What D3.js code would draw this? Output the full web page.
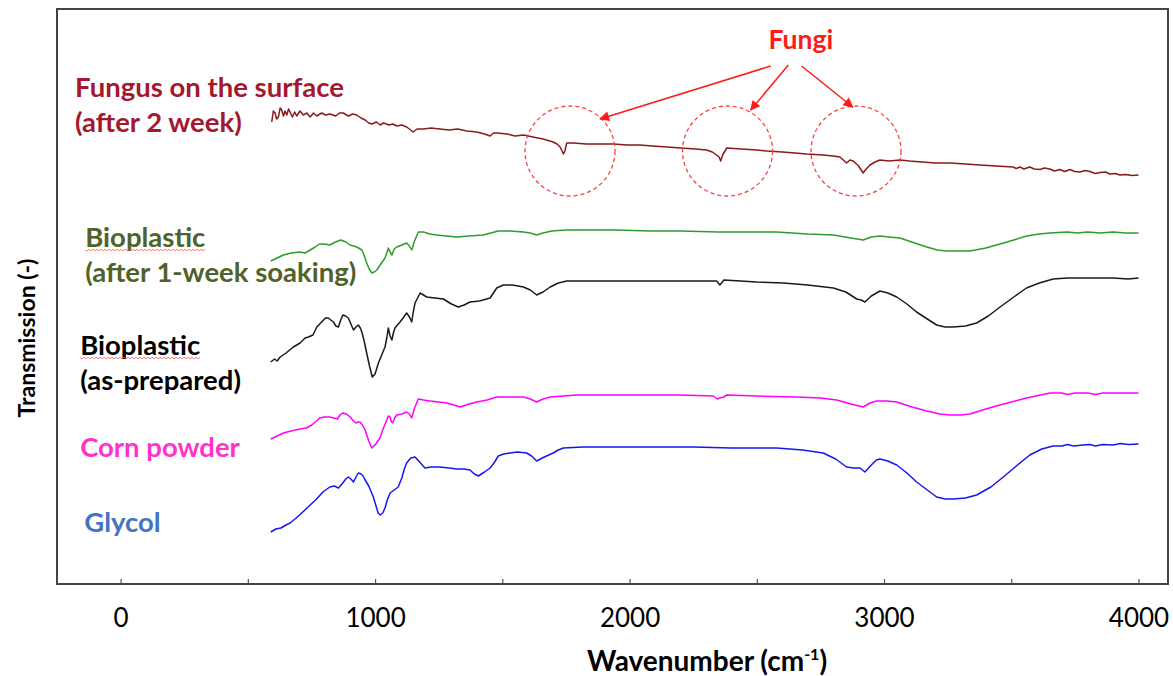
<!DOCTYPE html>
<html lang="en">
<head>
<meta charset="utf-8">
<title>FTIR spectra</title>
<script src="https://cdn.jsdelivr.net/npm/d3@7/dist/d3.min.js"></script>
<style>
  body { margin: 0; background: #fff; }
  text { font-family: Lato, "Open Sans", sans-serif; }
</style>
</head>
<body>
<script>

// Spectra: [wavenumber (cm-1), transmission (offset, arb. units)]
var fungus = [[594,46.2],[600,47.3],[607,47.1],[613,46.5],[620,46.7],[627,47.6],[633,47.4],[640,46.8],[646,47.3],[653,46.9],
  [660,47.5],[666,47.2],[675,46.7],[684,47.2],[692,46.8],[705,47.3],[718,46.9],[732,47.1],[745,46.7],[758,47.1],[771,46.8],
  [790,47.1],[805,46.9],[823,47.0],[845,46.8],[860,47.1],[875,47.1],[895,46.8],[912,47.0],[928,46.9],[945,46.6],[961,46.4],
  [975,46.1],[987,46.0],[1005,46.2],[1020,45.9],[1033,46.1],[1055,45.9],[1070,46.0],[1085,45.8],[1105,45.9],[1124,45.7],
  [1140,45.4],[1150,45.2],[1165,45.5],[1190,45.5],[1220,45.6],[1255,45.5],[1290,45.4],[1325,45.5],[1360,45.3],[1400,45.2],
  [1430,45.0],[1452,44.8],[1465,45.1],[1478,45.1],[1520,45.0],[1550,44.8],[1583,44.9],[1620,44.7],[1660,44.5],[1700,44.2],
  [1715,44.0],[1727,43.7],[1735,43.3],[1740,43.0],[1746,43.3],[1753,44.1],[1780,44.1],[1830,44.0],[1880,44.0],[1936,44.0],
  [1990,43.9],[2040,43.9],[2090,43.8],[2146,43.7],[2200,43.6],[2260,43.5],[2303,43.4],[2325,43.2],[2342,42.9],[2352,42.7],
  [2358,42.3],[2366,42.9],[2382,43.6],[2440,43.5],[2500,43.4],[2539,43.3],[2600,43.2],[2650,43.1],[2696,43.0],[2760,42.9],
  [2800,42.8],[2827,42.7],[2840,42.4],[2853,42.1],[2866,42.4],[2879,42.3],[2900,41.8],[2918,41.1],[2930,41.5],[2945,41.9],
  [2965,42.2],[2984,42.4],[3020,42.3],[3063,42.4],[3100,42.3],[3150,42.2],[3200,42.1],[3260,42.1],[3320,42.0],[3377,41.9],
  [3440,41.8],[3507,41.7],[3520,41.55],[3534,41.7],[3550,41.5],[3573,41.7],[3590,41.5],[3613,41.45],[3630,41.6],[3652,41.5],
  [3670,41.3],[3691,41.45],[3710,41.25],[3731,41.45],[3750,41.25],[3770,41.2],[3790,41.35],[3809,41.25],[3830,41.05],[3849,41.15],
  [3870,41.2],[3888,41.0],[3910,41.05],[3927,40.9],[3950,40.95],[3975,40.85],[4000,40.9]];

var soaked = [[590,32.3],[615,32.6],[640,32.9],[670,33.1],[705,33.2],[725,33.1],[745,33.4],[765,33.7],[782,34.0],[800,34.0],
  [822,33.9],[845,34.2],[865,34.4],[885,34.2],[902,33.9],[928,33.7],[948,33.4],[958,32.8],[967,32.1],[977,31.5],[987,31.1],
  [997,31.2],[1007,31.4],[1020,31.9],[1039,32.6],[1046,33.1],[1052,33.6],[1059,33.2],[1066,32.9],[1075,33.5],[1085,33.7],
  [1105,33.9],[1124,34.1],[1135,33.8],[1144,33.4],[1155,34.3],[1170,35.2],[1190,35.2],[1215,35.0],[1242,34.9],[1280,34.8],
  [1321,34.7],[1370,34.8],[1425,34.9],[1455,35.1],[1484,35.3],[1530,35.3],[1583,35.2],[1610,35.1],[1635,34.9],[1660,35.1],
  [1694,35.3],[1750,35.4],[1818,35.4],[1950,35.4],[2080,35.3],[2200,35.3],[2350,35.2],[2460,35.2],[2578,35.2],[2700,35.0],
  [2801,34.9],[2870,34.6],[2918,34.4],[2950,34.7],[2984,34.8],[3020,34.7],[3063,34.6],[3120,34.1],[3168,33.7],[3210,33.4],
  [3246,33.3],[3300,33.3],[3338,33.3],[3400,33.6],[3456,34.0],[3510,34.4],[3560,34.8],[3610,35.0],[3652,35.1],[3720,35.2],
  [3760,35.1],[3800,35.2],[3850,35.1],[3900,35.2],[3950,35.1],[4000,35.1]];

var prepared = [[590,22.2],[605,22.5],[615,22.3],[627,22.7],[650,23.1],[679,23.7],[705,24.1],[725,24.6],[738,24.7],[756,24.9],
  [771,25.7],[790,26.2],[805,26.6],[816,26.6],[826,26.4],[836,26.2],[846,25.8],[856,25.7],[865,26.4],[873,26.9],[884,26.8],
  [895,26.6],[905,26.0],[915,25.4],[925,25.7],[934,25.9],[942,25.6],[948,25.2],[957,24.3],[967,23.1],[978,21.8],[989,20.7],
  [1000,21.0],[1013,22.1],[1026,22.9],[1039,23.7],[1046,24.6],[1052,25.6],[1059,24.8],[1066,24.4],[1072,25.1],[1078,25.6],
  [1098,26.2],[1110,26.6],[1124,27.1],[1135,26.7],[1144,26.2],[1150,27.2],[1157,28.1],[1177,29.1],[1190,28.9],[1203,28.7],
  [1235,28.6],[1268,28.5],[1300,28.0],[1327,27.7],[1350,27.9],[1373,28.2],[1410,28.3],[1452,28.6],[1465,29.1],[1478,29.6],
  [1504,29.9],[1540,29.9],[1583,29.7],[1610,29.4],[1635,28.9],[1660,29.2],[1688,29.7],[1720,30.1],[1753,30.3],[1900,30.3],
  [2080,30.3],[2200,30.3],[2342,30.3],[2355,29.9],[2371,30.4],[2500,30.2],[2604,30.1],[2700,29.9],[2801,29.6],[2850,29.2],
  [2893,28.5],[2910,28.4],[2925,28.2],[2950,28.8],[2984,29.3],[3015,29.1],[3050,28.7],[3090,28.0],[3128,27.2],[3170,26.5],
  [3207,25.9],[3240,25.7],[3272,25.7],[3320,25.8],[3364,26.1],[3410,26.8],[3456,27.7],[3510,28.7],[3560,29.6],[3610,30.1],
  [3665,30.5],[3720,30.6],[3783,30.6],[3900,30.6],[3960,30.5],[4000,30.6]];

var corn = [[590,14.5],[615,14.8],[640,15.1],[670,15.3],[705,15.5],[730,15.6],[751,15.9],[770,16.3],[782,16.6],[800,16.7],
  [822,16.7],[838,16.6],[852,16.5],[862,16.9],[873,17.1],[888,17.0],[902,16.7],[915,16.3],[925,16.1],[933,16.2],[941,16.2],
  [950,15.9],[961,15.4],[975,14.3],[987,13.6],[1000,13.9],[1019,14.6],[1033,15.6],[1046,16.4],[1052,16.8],[1059,16.7],
  [1064,16.2],[1069,16.1],[1077,16.6],[1085,16.9],[1105,17.0],[1124,17.2],[1135,17.0],[1144,16.6],[1155,17.6],[1170,18.5],
  [1190,18.4],[1216,18.3],[1250,18.2],[1282,18.1],[1310,17.9],[1334,17.7],[1370,18.0],[1400,18.2],[1440,18.4],[1478,18.7],
  [1530,18.7],[1583,18.7],[1610,18.5],[1635,18.2],[1660,18.5],[1688,18.7],[1740,18.8],[1792,18.9],[1950,18.9],[2080,18.9],
  [2200,18.9],[2329,18.8],[2345,18.5],[2355,18.6],[2370,18.7],[2382,18.9],[2500,18.8],[2657,18.7],[2750,18.6],[2814,18.4],
  [2870,18.0],[2918,17.7],[2945,18.1],[2971,18.3],[3010,18.3],[3050,18.2],[3110,17.7],[3168,17.3],[3220,17.0],[3259,16.9],
  [3300,16.9],[3338,17.0],[3400,17.5],[3469,18.0],[3560,18.6],[3652,19.1],[3700,19.1],[3720,18.95],[3750,19.1],[3800,19.1],
  [3830,18.95],[3860,19.1],[3900,19.1],[4000,19.1]];

var glycol = [[590,5.2],[610,5.5],[630,5.6],[650,5.9],[666,6.1],[690,6.6],[720,7.3],[745,7.9],[770,8.5],[795,9.2],[822,9.7],
  [840,9.8],[856,9.6],[870,10.0],[885,10.5],[895,10.7],[905,10.5],[915,10.2],[925,10.7],[934,11.1],[945,11.0],[953,10.8],
  [961,10.4],[975,9.8],[985,9.2],[993,8.7],[1005,7.7],[1012,7.1],[1020,6.9],[1030,7.1],[1039,7.6],[1048,8.4],[1059,9.1],
  [1075,9.4],[1091,9.7],[1105,10.6],[1115,11.5],[1124,12.1],[1140,12.6],[1157,12.7],[1175,12.2],[1196,11.6],[1220,11.7],
  [1255,11.7],[1290,11.6],[1321,11.5],[1350,11.5],[1373,11.4],[1390,11.0],[1406,10.8],[1430,11.2],[1452,11.6],[1470,12.2],
  [1484,12.8],[1505,13.0],[1530,13.1],[1560,13.2],[1596,13.1],[1615,12.8],[1635,12.3],[1665,12.7],[1700,13.1],[1720,13.4],
  [1740,13.6],[1818,13.7],[1950,13.7],[2080,13.7],[2250,13.7],[2400,13.6],[2578,13.6],[2680,13.4],[2761,13.1],[2810,12.5],
  [2853,11.7],[2880,11.6],[2906,11.6],[2915,11.4],[2925,11.2],[2950,11.9],[2970,12.4],[2984,12.5],[3015,12.3],[3050,11.9],
  [3090,11.1],[3128,10.2],[3170,9.4],[3207,8.7],[3240,8.5],[3272,8.5],[3320,8.6],[3364,8.9],[3420,9.7],[3469,10.7],
  [3520,11.8],[3573,12.9],[3620,13.5],[3665,13.8],[3700,13.8],[3720,13.95],[3745,13.8],[3783,13.9],[3810,13.95],[3830,13.8],
  [3860,13.95],[3900,13.9],[3930,14.05],[3960,13.95],[4000,14.0]];

var seriesColors = ["#8b1a1a", "#2e9b2e", "#1a1a1a", "#ff00ff", "#1616f0"];

// label lines: [series, text, wavenumber at left edge, baseline value]
var labelLines = [
  ["fungus", "Fungus on the surface", -179, 48.7],
  ["fungus", "(after 2 week)", -179, 45.2],
  ["soaked", "Bioplastic", -139, 33.7],
  ["soaked", "(after 1-week soaking)", -139, 30.2],
  ["prepared", "Bioplastic", -159, 22.9],
  ["prepared", "(as-prepared)", -159, 19.4],
  ["corn", "Corn powder", -159, 12.7],
  ["glycol", "Glycol", -143, 5.2]
];
var labelColors = { fungus: "#a3182f", soaked: "#4f6228", prepared: "#000000", corn: "#ff33cc", glycol: "#4472c4" };

// fungi annotation: circled peaks and arrows from the label
var fungiCircles = [[1766, 43.3], [2385, 43.3], [2890, 43.3]];
var fungiArrows  = [[[2555, 51.8], [1884, 46.5]], [[2624, 51.9], [2476, 47.4]], [[2676, 51.8], [2877, 47.7]]];
var fungiLabel   = [2673, 53.5];

var xTicks = [0, 500, 1000, 1500, 2000, 2500, 3000, 3500, 4000];

var w = 1173, h = 676;
var xScale = d3.scaleLinear().domain([-250, 4116]).range([57, 1168]);
var yScale = d3.scaleLinear().domain([0, 57.5]).range([584, 9]);

var svg = d3.select("body").append("svg")
  .attr("width", w)
  .attr("height", h);

var defs = svg.append("defs");
defs.append("marker")
  .attr("id", "arrow")
  .attr("viewBox", "0 0 10 10")
  .attr("refX", 9).attr("refY", 5)
  .attr("markerWidth", 12).attr("markerHeight", 10)
  .attr("markerUnits", "userSpaceOnUse")
  .attr("orient", "auto")
  .append("path")
  .attr("d", "M0,0 L10,5 L0,10 Z")
  .attr("fill", "#ff1a1a");

//x axis with inside ticks, labels only every 1000
var xAxis = d3.axisBottom(xScale)
  .tickValues(xTicks)
  .tickSizeInner(-5)
  .tickSizeOuter(0)
  .tickPadding(25)
  .tickFormat(function(d) { return d % 1000 === 0 ? d : ""; });

var gx = svg.append("g")
  .attr("transform", "translate(0," + yScale(0) + ")")
  .call(xAxis);
gx.select(".domain").remove();
gx.selectAll(".tick line").attr("stroke", "#555").attr("stroke-width", 1.2);
gx.selectAll(".tick text")
  .attr("font-family", "Lato, sans-serif")
  .attr("font-size", "26px")
  .attr("fill", "#000");

// frame
svg.append("rect")
  .attr("x", xScale.range()[0])
  .attr("y", yScale.range()[1])
  .attr("width", xScale.range()[1] - xScale.range()[0])
  .attr("height", yScale.range()[0] - yScale.range()[1])
  .attr("fill", "none")
  .attr("stroke", "#444")
  .attr("stroke-width", 2);

// spectra
var line = d3.line()
  .x(function(d) { return xScale(d[0]); })
  .y(function(d) { return yScale(d[1]); });

var allSeries = [fungus, soaked, prepared, corn, glycol];
svg.selectAll("path.spectrum")
  .data(allSeries)
  .enter()
  .append("path")
  .attr("class", "spectrum")
  .attr("d", line)
  .attr("fill", "none")
  .attr("stroke", function(d, i) { return seriesColors[i]; })
  .attr("stroke-width", 1.5)
  .attr("stroke-linejoin", "round");

// labels
svg.selectAll("text.label")
  .data(labelLines)
  .enter()
  .append("text")
  .attr("class", "label")
  .attr("x", function(d) { return xScale(d[2]); })
  .attr("y", function(d) { return yScale(d[3]); })
  .attr("font-size", "27.5px")
  .attr("font-weight", "bold")
  .attr("fill", function(d) { return labelColors[d[0]]; })
  .text(function(d) { return d[1]; });

// red spell-check squiggle under "Bioplastic"
svg.selectAll("text.label")
  .filter(function(d) { return d[1] === "Bioplastic"; })
  .each(function() {
    var b = this.getBBox();
    var y0 = b.y + b.height - 3;
    var p = "M" + b.x + "," + y0;
    for (var x = b.x + 2, k = 0; x <= b.x + b.width; x += 2, k++) {
      p += " L" + x + "," + (y0 + (k % 2 ? -1 : 1));
    }
    svg.append("path").attr("d", p).attr("fill", "none")
      .attr("stroke", "#ff5050").attr("stroke-width", 0.8);
  });

// fungi annotation
svg.selectAll("circle.fungi")
  .data(fungiCircles)
  .enter()
  .append("circle")
  .attr("class", "fungi")
  .attr("cx", function(d) { return xScale(d[0]); })
  .attr("cy", function(d) { return yScale(d[1]); })
  .attr("r", 45)
  .attr("fill", "none")
  .attr("stroke", "#ff4040")
  .attr("stroke-width", 1.3)
  .attr("stroke-dasharray", "4,3");

svg.selectAll("line.arrow")
  .data(fungiArrows)
  .enter()
  .append("line")
  .attr("class", "arrow")
  .attr("x1", function(d) { return xScale(d[0][0]); })
  .attr("y1", function(d) { return yScale(d[0][1]); })
  .attr("x2", function(d) { return xScale(d[1][0]); })
  .attr("y2", function(d) { return yScale(d[1][1]); })
  .attr("stroke", "#ff1a1a")
  .attr("stroke-width", 1.5)
  .attr("marker-end", "url(#arrow)");

svg.append("text")
  .attr("x", xScale(fungiLabel[0]))
  .attr("y", yScale(fungiLabel[1]))
  .attr("text-anchor", "middle")
  .attr("font-size", "26.5px")
  .attr("font-weight", "bold")
  .attr("fill", "#ff1a1a")
  .text("Fungi");

// axis titles
var xt = svg.append("text")
  .attr("x", 707)
  .attr("y", 671)
  .attr("text-anchor", "middle")
  .attr("font-size", "28px")
  .attr("font-weight", "bold")
  .attr("fill", "#000");
xt.append("tspan").text("Wavenumber (cm");
xt.append("tspan").attr("font-size", "16px").attr("dy", -11).text("-1");
xt.append("tspan").attr("dy", 11).text(")");

svg.append("text")
  .attr("transform", "translate(35,338) rotate(-90)")
  .attr("text-anchor", "middle")
  .attr("font-size", "23px")
  .attr("font-weight", "bold")
  .attr("fill", "#000")
  .text("Transmission (-)");

</script>
</body>
</html>
